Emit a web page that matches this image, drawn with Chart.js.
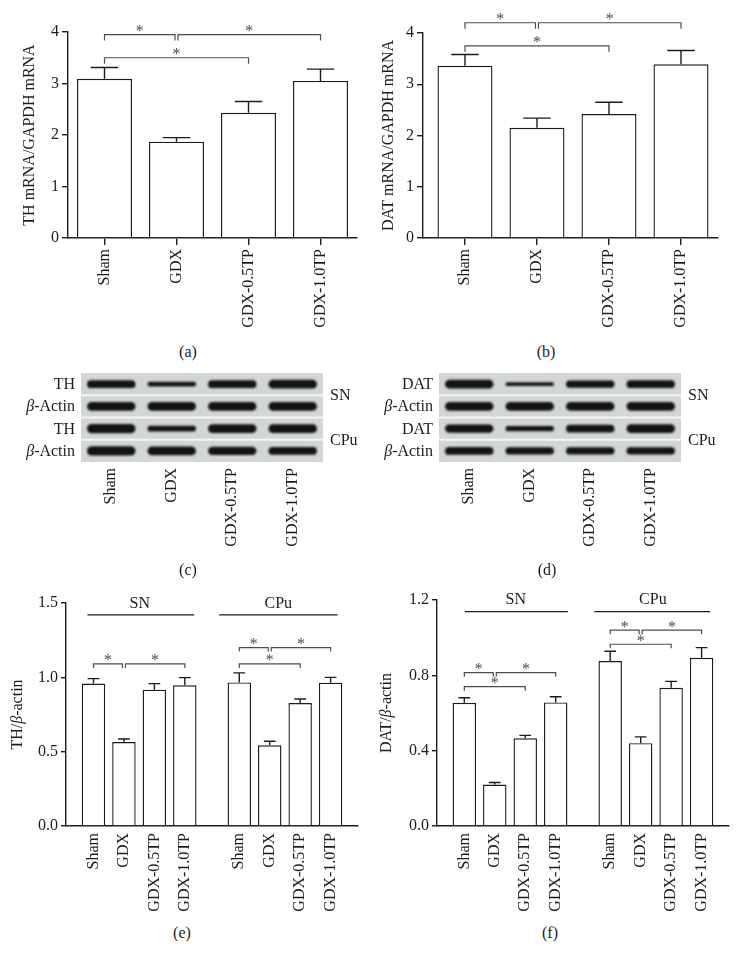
<!DOCTYPE html>
<html>
<head>
<meta charset="utf-8">
<script src="https://cdn.jsdelivr.net/npm/chart.js@4.4.1/dist/chart.umd.min.js"></script>
<style>
  body { margin: 0; background: #fff; width: 740px; height: 967px; position: relative; overflow: hidden;
         font-family: "Liberation Serif", "Times New Roman", serif; color: #1c1c1c; }
  canvas { position: absolute; }
  .t { position: absolute; font-size: 16px; line-height: 18px; white-space: nowrap; }
  .r { text-align: right; }
  .c { text-align: center; width: 40px; }
</style>
</head>
<body>
<canvas id="chartA" width="370" height="330" style="left:0;top:0"></canvas>
<canvas id="chartB" width="370" height="330" style="left:370px;top:0"></canvas>
<canvas id="blotC" width="302" height="190" style="left:51px;top:373px"></canvas>
<canvas id="blotD" width="302" height="190" style="left:409px;top:373px"></canvas>
<canvas id="chartE" width="370" height="335" style="left:0;top:585px"></canvas>
<canvas id="chartF" width="370" height="335" style="left:370px;top:585px"></canvas>

<!-- blot row labels -->
<div class="t r" style="left:0;width:75px;top:375px">TH</div>
<div class="t r" style="left:0;width:75px;top:397px"><i>β</i>-Actin</div>
<div class="t r" style="left:0;width:75px;top:420px">TH</div>
<div class="t r" style="left:0;width:75px;top:442px"><i>β</i>-Actin</div>
<div class="t" style="left:330px;top:386px">SN</div>
<div class="t" style="left:330px;top:431px">CPu</div>

<div class="t r" style="left:360px;width:73px;top:375px">DAT</div>
<div class="t r" style="left:360px;width:73px;top:397px"><i>β</i>-Actin</div>
<div class="t r" style="left:360px;width:73px;top:420px">DAT</div>
<div class="t r" style="left:360px;width:73px;top:442px"><i>β</i>-Actin</div>
<div class="t" style="left:688px;top:386px">SN</div>
<div class="t" style="left:688px;top:431px">CPu</div>

<!-- panel letters -->
<div class="t c" style="left:168px;top:343px">(a)</div>
<div class="t c" style="left:526px;top:343px">(b)</div>
<div class="t c" style="left:168px;top:561px">(c)</div>
<div class="t c" style="left:527px;top:561px">(d)</div>
<div class="t c" style="left:162px;top:924px">(e)</div>
<div class="t c" style="left:530px;top:924px">(f)</div>

<script>
// ==================== DATA ====================
const groups = ['Sham', 'GDX', 'GDX-0.5TP', 'GDX-1.0TP'];
const groups2 = [...groups, ...groups];   // SN block, then CPu block

// (a) TH mRNA / GAPDH mRNA (mean, SEM)
const thMrna = [3.09, 1.87, 2.43, 3.05];
const thMrnaSem = [0.22, 0.08, 0.22, 0.23];
// (b) DAT mRNA / GAPDH mRNA
const datMrna = [3.36, 2.15, 2.42, 3.39];
const datMrnaSem = [0.22, 0.19, 0.23, 0.27];

// (e) TH / beta-actin
const thSN = [0.958, 0.565, 0.917, 0.946];
const thSNSem = [0.033, 0.020, 0.041, 0.052];
const thCPu = [0.966, 0.543, 0.827, 0.964];
const thCPuSem = [0.064, 0.027, 0.027, 0.036];
// (f) DAT / beta-actin
const datSN = [0.654, 0.220, 0.466, 0.656];
const datSNSem = [0.027, 0.011, 0.015, 0.030];
const datCPu = [0.876, 0.440, 0.734, 0.893];
const datCPuSem = [0.052, 0.033, 0.034, 0.054];

// y ticks
const mrnaTicks = [0, 1, 2, 3, 4];
const thTicks = [0, 0.5, 1.0, 1.5];
const datTicks = [0, 0.4, 0.8, 1.2];

// significance brackets: [from bar, to bar, level]
const thMrnaSig = [[0, 1, 3.95], [1, 3, 3.95], [0, 2, 3.50]];
const datMrnaSig = [[0, 1, 4.20], [1, 3, 4.20], [0, 2, 3.75]];
const thSig = [[0, 1, 1.09], [1, 3, 1.09], [4, 5, 1.20], [5, 7, 1.20], [4, 6, 1.09]];
const datSig = [[0, 1, 0.814], [1, 3, 0.814], [0, 2, 0.74], [4, 5, 1.04], [5, 7, 1.04], [4, 6, 0.965]];

// western blot band densities (rows: target SN, actin SN, target CPu, actin CPu)
const blotTH = [
  [0.85, 0.50, 0.85, 0.95],
  [0.95, 0.95, 0.95, 0.95],
  [1.00, 0.60, 0.95, 0.95],
  [1.00, 0.95, 0.90, 0.85]
];
const blotDAT = [
  [0.95, 0.40, 0.75, 0.85],
  [0.95, 0.95, 0.95, 0.95],
  [0.90, 0.55, 0.85, 0.95],
  [0.85, 0.75, 0.75, 0.75]
];

// ==================== STYLE ====================
const FAMILY = '"Liberation Serif", "Times New Roman", serif';
const FONT = { family: FAMILY, size: 16 };
const INK = '#1c1c1c';
const BRACKET = '#4d4d4d';

// slot positions on the x axis (gap between SN and CPu blocks)
const slots4 = [0, 1, 2, 3];
const slots8 = [0, 1, 2, 3, 4.79, 5.79, 6.79, 7.79];

function drawRotatedTitle(ctx, parts, cx, cy) {
  ctx.save();
  ctx.translate(cx, cy);
  ctx.rotate(-Math.PI / 2);
  ctx.textBaseline = 'middle';
  ctx.textAlign = 'left';
  ctx.fillStyle = INK;
  const fonts = parts.map(p => (p[1] ? 'italic ' : '') + '16px ' + FAMILY);
  const widths = parts.map((p, k) => { ctx.font = fonts[k]; return ctx.measureText(p[0]).width; });
  let xx = -widths.reduce((s, w) => s + w, 0) / 2;
  parts.forEach((p, k) => { ctx.font = fonts[k]; ctx.fillText(p[0], xx, 0); xx += widths[k]; });
  ctx.restore();
}

function marksPlugin(cfg) {
  return {
    id: 'marks_' + cfg.canvas,
    afterDatasetsDraw(chart) {
      const { ctx, chartArea, scales: { x, y } } = chart;
      const bars = chart.getDatasetMeta(0).data;
      ctx.save();

      // SEM error bars, upper side only
      ctx.strokeStyle = INK;
      ctx.lineWidth = 1.4;
      ctx.beginPath();
      bars.forEach((bar, i) => {
        const top = y.getPixelForValue(cfg.values[i] + cfg.sem[i]);
        const half = bar.width / 4;
        ctx.moveTo(bar.x, bar.y);
        ctx.lineTo(bar.x, top);
        ctx.moveTo(bar.x - half, top);
        ctx.lineTo(bar.x + half, top);
      });
      ctx.stroke();

      // significance brackets + stars
      ctx.strokeStyle = BRACKET;
      ctx.fillStyle = BRACKET;
      ctx.lineWidth = 1.2;
      ctx.font = '16px ' + FAMILY;
      ctx.textAlign = 'center';
      ctx.textBaseline = 'alphabetic';
      cfg.brackets.forEach(([a, b, v]) => {
        const xa = bars[a].x + (a % 4 === 1 ? 1.5 : 0);
        const xb = bars[b].x - (b % 4 === 1 ? 1.5 : 0);
        const yy = y.getPixelForValue(v);
        ctx.beginPath();
        ctx.moveTo(xa, yy + cfg.drop);
        ctx.lineTo(xa, yy);
        ctx.lineTo(xb, yy);
        ctx.lineTo(xb, yy + cfg.drop);
        ctx.stroke();
        ctx.fillText('*', (xa + xb) / 2, yy + 1.5);
      });

      // region headers (SN / CPu)
      ctx.strokeStyle = INK;
      ctx.fillStyle = INK;
      ctx.lineWidth = 1.3;
      ctx.textBaseline = 'middle';
      cfg.regions.forEach(g => {
        const ly = y.getPixelForValue(g.ly);
        ctx.beginPath();
        ctx.moveTo(x.getPixelForValue(g.x0), ly);
        ctx.lineTo(x.getPixelForValue(g.x1), ly);
        ctx.stroke();
        ctx.fillText(g.text, x.getPixelForValue(g.cx), y.getPixelForValue(g.cy));
      });
      ctx.restore();

      drawRotatedTitle(ctx, cfg.title, chartArea.left - cfg.titleGap, (chartArea.top + chartArea.bottom) / 2);
    }
  };
}

function barChart(cfg) {
  return new Chart(document.getElementById(cfg.canvas), {
    type: 'bar',
    data: {
      datasets: [{
        data: cfg.slots.map((s, i) => ({ x: s, y: cfg.values[i] })),
        backgroundColor: '#ffffff',
        borderColor: INK,
        borderWidth: 1.4,
        categoryPercentage: 1,
        barPercentage: cfg.barPct
      }]
    },
    options: {
      responsive: false,
      animation: false,
      events: [],
      layout: { padding: cfg.padding },
      plugins: { legend: { display: false }, tooltip: { enabled: false } },
      scales: {
        x: {
          type: 'linear',
          offset: false,
          min: cfg.xMin,
          max: cfg.xMax,
          afterBuildTicks: s => { s.ticks = cfg.slots.map(v => ({ value: v })); },
          afterFit: s => { s.height = cfg.xHeight; },
          border: { color: INK, width: 1.4 },
          grid: { offset: false, drawOnChartArea: false, drawTicks: cfg.xTick > 0, tickLength: cfg.xTick, color: INK, lineWidth: 1.4 },
          ticks: {
            autoSkip: false, minRotation: 90, maxRotation: 90, padding: cfg.xPad,
            color: INK, font: FONT,
            callback: (v, i) => cfg.labels[i]
          }
        },
        y: {
          min: 0,
          max: cfg.yMax,
          afterBuildTicks: s => { s.ticks = cfg.yTicks.map(v => ({ value: v })); },
          afterFit: s => { s.width = cfg.yWidth; },
          border: { color: INK, width: 1.4 },
          grid: { drawOnChartArea: false, tickLength: cfg.yTick, color: INK, lineWidth: 1.4 },
          ticks: { padding: 3, color: INK, font: FONT, callback: v => v.toFixed(cfg.digits) }
        }
      }
    },
    plugins: [marksPlugin(cfg)]
  });
}

// ---- western blot panels (bands as floating bars on lane x row scales)
const blotPlugin = {
  id: 'blotBackground',
  beforeDatasetsDraw(chart) {
    const { ctx, chartArea: a, scales: { y } } = chart;
    ctx.save();
    ctx.fillStyle = '#d3d7d4';
    ctx.fillRect(a.left, a.top, a.right - a.left, a.bottom - a.top);
    ctx.strokeStyle = '#f4f6f5';
    ctx.lineWidth = 2;
    [1, 2, 3].forEach(r => {
      const yy = y.getPixelForValue(r);
      ctx.beginPath();
      ctx.moveTo(a.left, yy);
      ctx.lineTo(a.right, yy);
      ctx.stroke();
    });
    ctx.restore();
    ctx.save();
    ctx.filter = 'blur(0.9px)';
  },
  afterDatasetsDraw(chart) {
    chart.ctx.restore();
  }
};

function blotChart(id, rows) {
  return new Chart(document.getElementById(id), {
    type: 'bar',
    data: {
      labels: groups,
      datasets: rows.map((dens, r) => ({
        data: dens.map(d => [r + 0.5 - d * 0.21, r + 0.5 + d * 0.21]),
        backgroundColor: '#131313',
        borderWidth: 0,
        borderSkipped: false,
        borderRadius: 20,
        inflateAmount: 0,
        grouped: false,
        categoryPercentage: 1,
        barPercentage: 0.8
      }))
    },
    options: {
      responsive: false,
      animation: false,
      events: [],
      layout: { padding: { left: 30, right: 30, top: 0, bottom: 0 } },
      plugins: { legend: { display: false }, tooltip: { enabled: false } },
      scales: {
        x: {
          afterFit: s => { s.height = 101; },
          grid: { display: false, drawTicks: false },
          border: { display: false },
          ticks: { autoSkip: false, minRotation: 90, maxRotation: 90, padding: 6, color: INK, font: FONT }
        },
        y: { display: false, min: 0, max: 4, reverse: true }
      }
    },
    plugins: [blotPlugin]
  });
}

// ==================== BUILD ====================
barChart({
  canvas: 'chartA', values: thMrna, sem: thMrnaSem, slots: slots4, labels: groups,
  xMin: -0.507, xMax: 3.507, yMax: 4, yTicks: mrnaTicks, digits: 0,
  padding: { top: 32, right: 13, left: 0, bottom: 0 }, yWidth: 68, xHeight: 92,
  xTick: 7, xPad: 4, yTick: 6, barPct: 0.764, drop: 6,
  title: [['TH mRNA/GAPDH mRNA', false]], titleGap: 38,
  brackets: thMrnaSig, regions: []
});

barChart({
  canvas: 'chartB', values: datMrna, sem: datMrnaSem, slots: slots4, labels: groups,
  xMin: -0.583, xMax: 3.514, yMax: 4, yTicks: mrnaTicks, digits: 0,
  padding: { top: 33, right: 22, left: 0, bottom: 0 }, yWidth: 53, xHeight: 92,
  xTick: 7, xPad: 4, yTick: 6, barPct: 0.764, drop: 6,
  title: [['DAT mRNA/GAPDH mRNA', false]], titleGap: 34.5,
  brackets: datMrnaSig, regions: []
});

blotChart('blotC', blotTH);
blotChart('blotD', blotDAT);

barChart({
  canvas: 'chartE', values: [...thSN, ...thCPu], sem: [...thSNSem, ...thCPuSem], slots: slots8, labels: groups2,
  xMin: -0.903, xMax: 8.69, yMax: 1.5, yTicks: thTicks, digits: 1,
  padding: { top: 18, right: 12, left: 0, bottom: 0 }, yWidth: 66, xHeight: 94,
  xTick: 0, xPad: 7, yTick: 5, barPct: 0.77, drop: 4,
  title: [['TH/', false], ['β', true], ['-actin', false]], titleGap: 48,
  brackets: thSig,
  regions: [
    { text: 'SN', cx: 1.52, cy: 1.496, x0: -0.2, x1: 3.31, ly: 1.42 },
    { text: 'CPu', cx: 6.07, cy: 1.496, x0: 4.13, x1: 8.02, ly: 1.42 }
  ]
});

barChart({
  canvas: 'chartF', values: [...datSN, ...datCPu], sem: [...datSNSem, ...datCPuSem], slots: slots8, labels: groups2,
  xMin: -0.897, xMax: 8.69, yMax: 1.2, yTicks: datTicks, digits: 1,
  padding: { top: 15, right: 11, left: 0, bottom: 0 }, yWidth: 67, xHeight: 94,
  xTick: 0, xPad: 7, yTick: 5, barPct: 0.77, drop: 4,
  title: [['DAT/', false], ['β', true], ['-actin', false]], titleGap: 50,
  brackets: datSig,
  regions: [
    { text: 'SN', cx: 1.69, cy: 1.20, x0: 0.02, x1: 3.40, ly: 1.138 },
    { text: 'CPu', cx: 6.19, cy: 1.20, x0: 4.27, x1: 8.07, ly: 1.138 }
  ]
});
</script>
</body>
</html>
